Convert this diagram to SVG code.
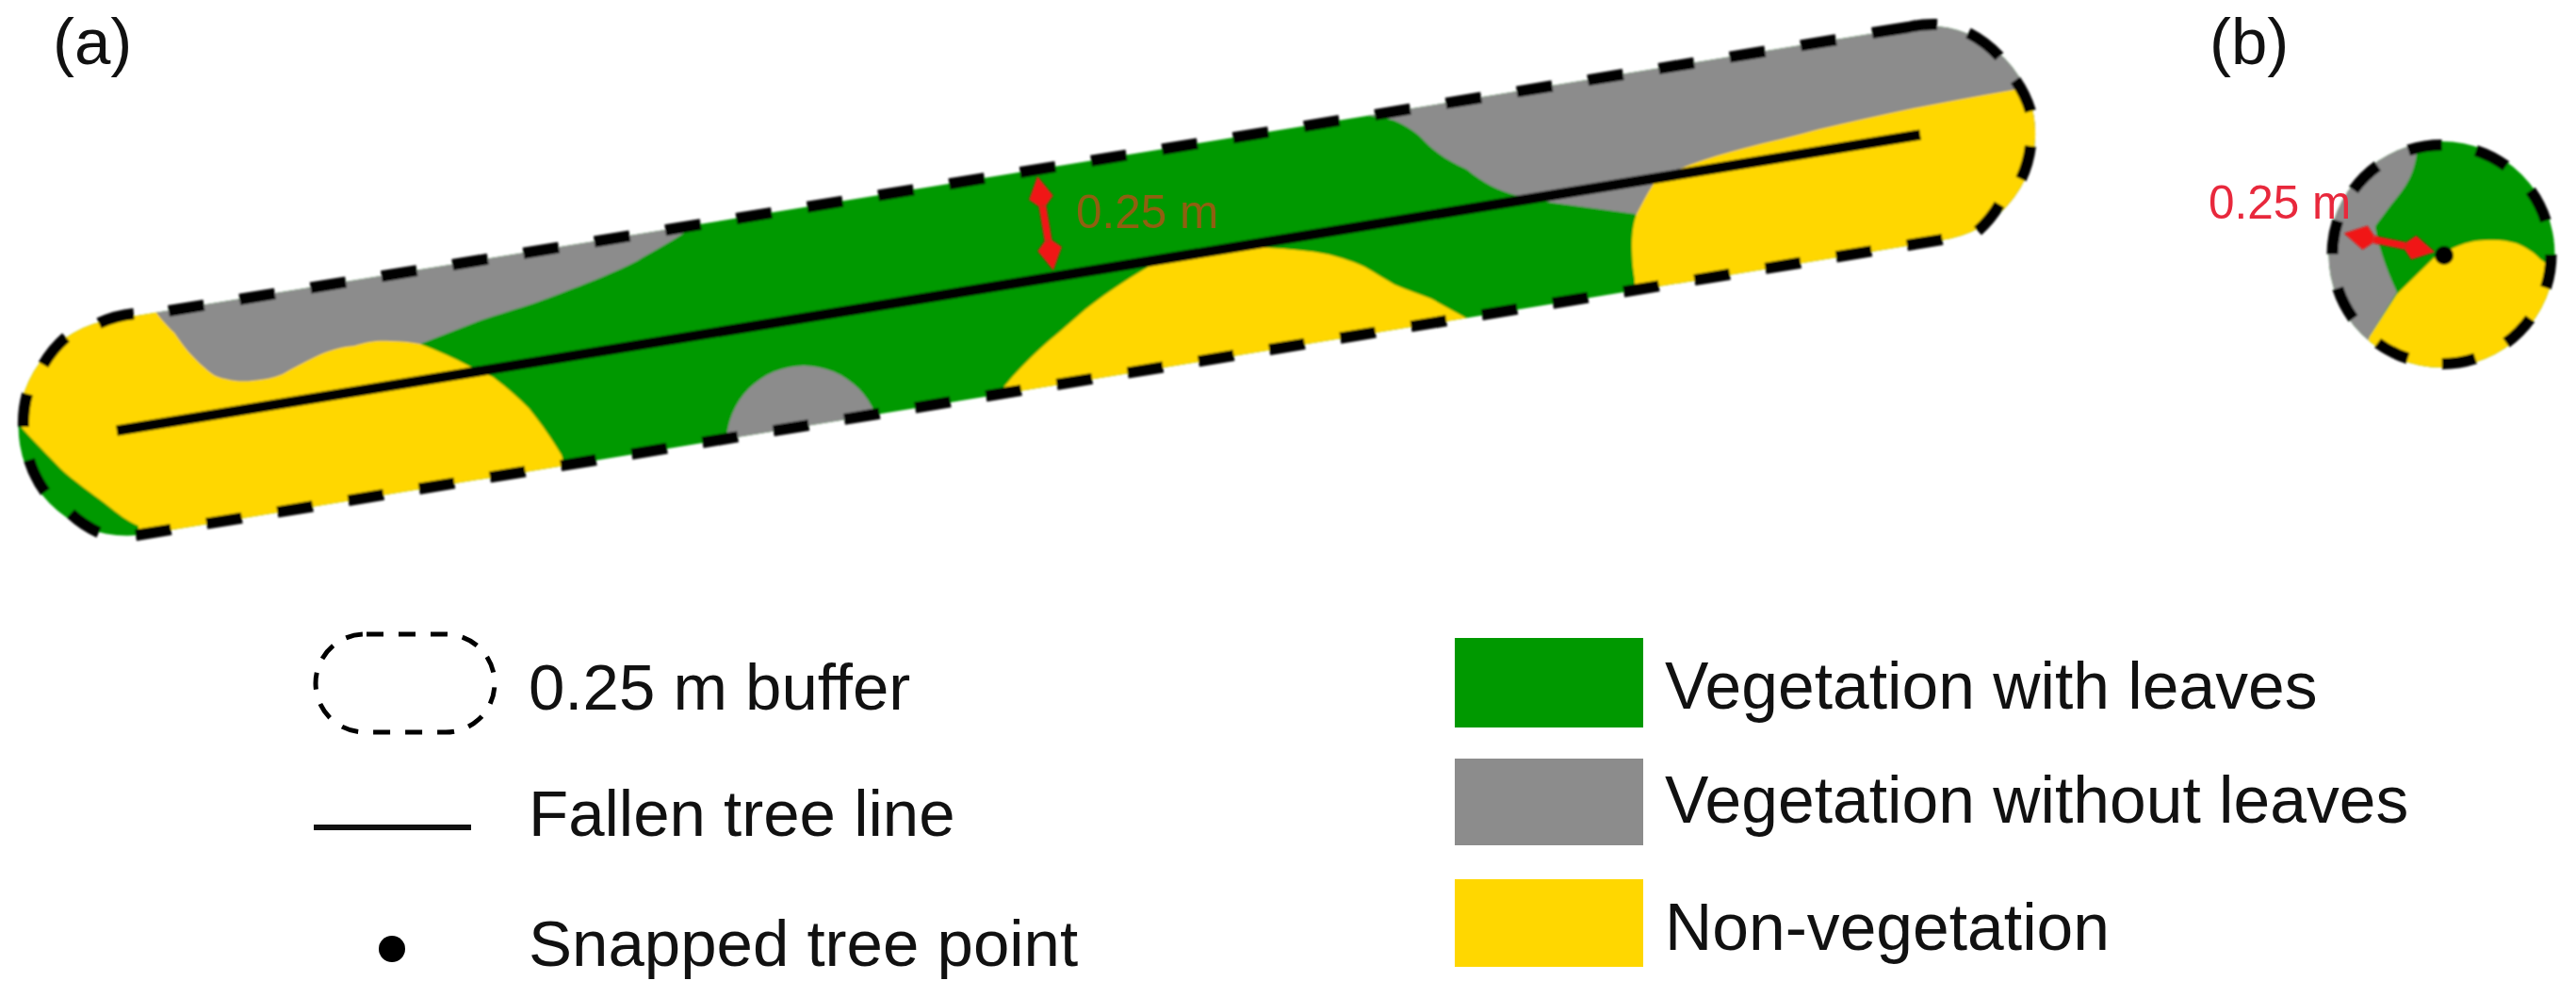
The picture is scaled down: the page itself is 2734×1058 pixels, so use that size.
<svg xmlns="http://www.w3.org/2000/svg" width="2734" height="1058" viewBox="0 0 2734 1058">
<style>
.g{fill:#009900}.k{fill:#8c8c8c}.y{fill:#ffd700}
.d{fill:none;stroke:#000;stroke-width:12}
.t{font-family:"Liberation Sans",Arial,sans-serif;font-size:69px;fill:#111}
.w{font-size:69.6px}
.r{font-family:"Liberation Sans",Arial,sans-serif;font-size:49.5px}
.a{fill:none;stroke:#f01414;stroke-width:8}
</style>
<defs>
<clipPath id="capsule"><path d="M121,339 L2022,30 A114.2,114.2 0 1 1 2060,255 L159,566 A115.2,115.2 0 1 1 121,339Z"/></clipPath>
<clipPath id="disc"><circle cx="2591.5" cy="270" r="120"/></clipPath>
<marker id="head" markerUnits="userSpaceOnUse" markerWidth="36" markerHeight="32" refX="0" refY="16" orient="auto-start-reverse" viewBox="0 0 36 32"><path d="M0,12 L9,3 L32,16 L9,29 L0,20Z" fill="#f01414"/></marker>
<filter id="soft" filterUnits="userSpaceOnUse" x="0" y="0" width="2734" height="1058"><feGaussianBlur stdDeviation="0.9"/></filter>
</defs>
<rect width="2734" height="1058" fill="#fff"/>
<g id="panel-a" filter="url(#soft)">
<g clip-path="url(#capsule)">
<rect class="g" x="0" y="0" width="2200" height="600"/>
<path class="k" d="M159,326 L440,240 L770,180 L740,235 C727,250 700,262 676,277 C650,290 630,298 606,307 C570,322 540,330 510,340 L446,365 L300,420 L217,400Z"/>
<path class="k" d="M771,480 L771,470 A82,82 0 0 1 935,470 L935,480 L940,500 L765,500Z"/>
<path class="k" d="M1420,90 L1429,120 C1450,122 1465,124 1480,128 C1495,135 1503,140 1512,150 C1527,165 1540,172 1557,180 C1575,195 1590,202 1608,207 L1646,215 L1735,227 L1800,300 L2200,200 L2200,0 L1420,0Z"/>
<path class="y" d="M147,575 L147,558 C135,553 125,545 115,537 C100,525 80,512 64,497 C50,482 35,468 15,445 L0,300 L120,300 L159,322 C168,335 176,345 185,353 C195,368 205,380 217,390 C225,398 232,401 239,402 C250,405 260,405 268,404 C280,403 290,401 300,397 C312,390 322,385 332,380 C347,372 362,368 376,367 C390,362 402,361 415,362 C425,362 436,363 446,365 C465,372 482,380 497,388 C510,394 515,396 523,400 C540,413 550,422 561,433 C575,450 587,468 596,483 L606,520 L606,620 L147,620Z"/>
<path class="y" d="M1050,440 L1066,410 C1078,395 1091,382 1104,370 C1117,358 1130,348 1142,337 C1155,325 1168,316 1181,307 C1194,298 1207,290 1219,283 C1240,275 1262,270 1283,268 C1305,263 1325,262 1346,263 C1368,264 1390,266 1410,270 C1425,274 1438,278 1448,283 C1460,290 1470,296 1480,302 C1494,308 1507,312 1519,317 C1533,325 1545,331 1557,338 L1600,400 L1100,520Z"/>
<path class="y" d="M2200,85 L2139,95 C2100,102 2065,108 2030,115 C1995,122 1962,130 1931,137 C1903,145 1878,150 1852,157 C1832,162 1812,168 1793,175 C1780,180 1768,187 1755,195 C1748,205 1743,216 1737,227 C1733,238 1732,250 1732,260 C1732,275 1733,285 1735,297 L1735,340 L2200,340Z"/>
</g>
<line x1="124" y1="457" x2="2038" y2="143" stroke="#000" stroke-width="11"/>
<path class="d" stroke-dasharray="38 38.3" d="M179,330 L1950,42"/>
<path class="d" stroke-dasharray="38 38.2" d="M144,568 L2062,254"/>
<path class="d" d="M105,343 A116,116 0 0 1 142,333 M70,358 A116,116 0 0 0 46,387 M29,418 A116,116 0 0 0 25,453 M31,488 A116,116 0 0 0 48,522 M75,545 A116,116 0 0 0 105,565"/>
<path class="d" d="M1987,35 L2025,29 A116,116 0 0 1 2056,26 M2089,35 A116,116 0 0 1 2122,60 M2139,85 A116,116 0 0 1 2155,118 M2155,155 A116,116 0 0 1 2145,190 M2122,217 A116,116 0 0 1 2099,245"/>
</g>
<g id="panel-b" filter="url(#soft)">
<g clip-path="url(#disc)">
<rect class="g" x="2460" y="140" width="270" height="270"/>
<path class="k" d="M2565,140 L2565,163 C2563,175 2561,182 2557,190 C2552,200 2545,208 2538,217 C2532,225 2526,233 2521,240 C2522,250 2525,260 2528,270 C2533,285 2538,298 2544,310 L2515,357 L2500,410 L2460,410 L2460,140Z"/>
<path class="y" d="M2587,270 C2592,268 2598,266 2604,263 C2615,258 2626,255 2637,255 C2650,254 2660,255 2670,258 C2680,262 2690,268 2696,275 L2730,300 L2730,410 L2495,410 L2515,357 L2544,312Z"/>
</g>
<circle class="d" cx="2591.5" cy="270" r="116" stroke-dasharray="36 36.88"/>
<circle id="snapped-point" cx="2594" cy="271" r="10" fill="#000"/>
</g>
<g id="connectors" filter="url(#soft)">
<line class="a" x1="1106.4" y1="218.6" x2="1112.6" y2="255.4" marker-start="url(#head)" marker-end="url(#head)"/>
<line class="a" x1="2519" y1="254" x2="2553" y2="261" marker-start="url(#head)" marker-end="url(#head)"/>
</g>
<g id="labels">
<text class="t" x="56" y="68">(a)</text>
<text class="t" x="2345" y="68">(b)</text>
<text class="r" x="1142" y="242" fill="#8f5f10">0.25 m</text>
<text class="r" x="2344" y="232" fill="#e8283c">0.25 m</text>
</g>
<g id="legend-buffer">
<rect x="335" y="673" width="190" height="104" rx="52" ry="52" fill="none" stroke="#000" stroke-width="5" stroke-dasharray="18 16" stroke-dashoffset="-2"/>
<text class="t" x="561" y="753">0.25 m buffer</text>
</g>
<g id="legend-line">
<line x1="333" y1="878" x2="500" y2="878" stroke="#111" stroke-width="6"/>
<text class="t" x="561" y="887">Fallen tree line</text>
</g>
<g id="legend-point">
<circle cx="416" cy="1007" r="14" fill="#000"/>
<text class="t" x="561" y="1025">Snapped tree point</text>
</g>
<g id="legend-green">
<rect class="g" x="1544" y="677" width="200" height="95"/>
<text class="t w" x="1767" y="752">Vegetation with leaves</text>
</g>
<g id="legend-gray">
<rect class="k" x="1544" y="805" width="200" height="92"/>
<text class="t w" x="1767" y="873">Vegetation without leaves</text>
</g>
<g id="legend-yellow">
<rect class="y" x="1544" y="933" width="200" height="93"/>
<text class="t w" x="1767" y="1008">Non-vegetation</text>
</g>
</svg>
